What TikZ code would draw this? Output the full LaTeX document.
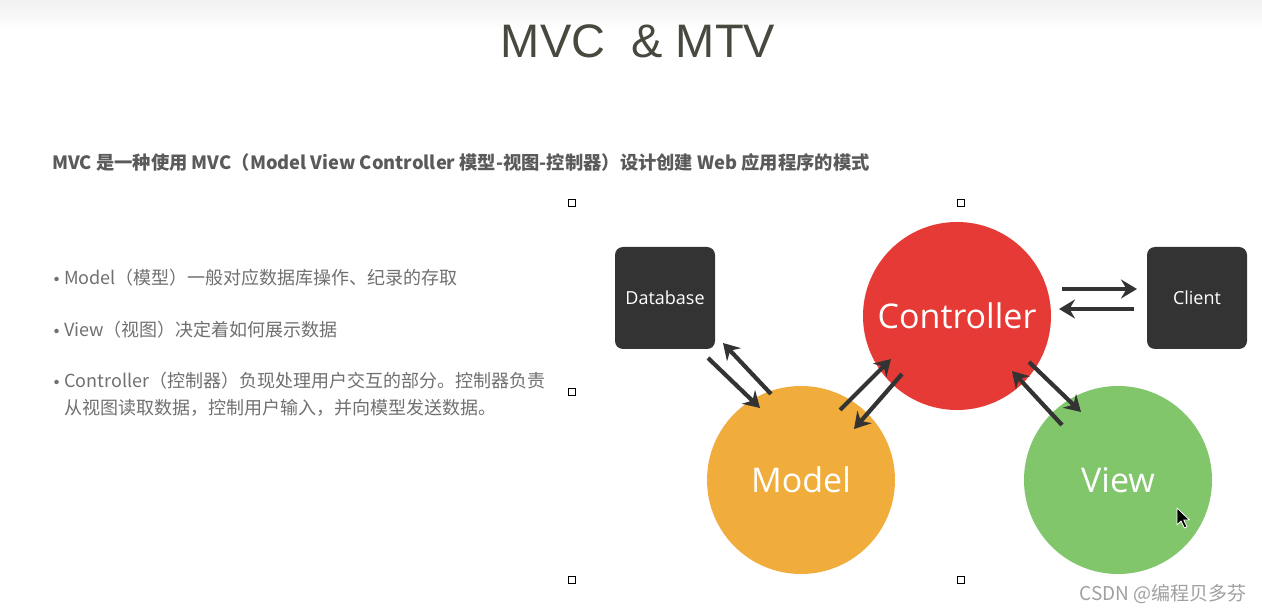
\documentclass[tikz,border=0pt]{standalone}
\usepackage{fontspec}
\setmainfont{Noto Sans CJK SC}
\newfontfamily\cjkfont{Noto Sans CJK SC}
\newfontfamily\diagfont{Open Sans}
\newfontfamily\titlefont{Liberation Sans}
\usetikzlibrary{arrows.meta}
\definecolor{titlecol}{HTML}{48483F}
\definecolor{subcol}{HTML}{5A5A5A}
\definecolor{bulcol}{HTML}{707070}
\definecolor{darkbox}{HTML}{333333}
\definecolor{ctrlred}{HTML}{E53A36}
\definecolor{modelorange}{HTML}{F1AD3C}
\definecolor{viewgreen}{HTML}{81C66B}
\definecolor{arrowcol}{HTML}{333333}
\definecolor{markcol}{HTML}{A0A0A0}
\definecolor{topgrey}{HTML}{F1F1F1}
\tikzset{
  darkbox/.style={draw=none, fill=darkbox, rounded corners=8pt, minimum width=100pt, minimum height=102pt, text=white, font=\diagfont\fontsize{18}{21}\selectfont},
  bubble/.style={circle, draw=none, minimum size=188pt, inner sep=0pt, text=white, font=\diagfont\fontsize{34}{40}\selectfont},
  flow/.style={draw=arrowcol, line width=4.2pt, -{Stealth[length=16pt,width=19pt,inset=5.5pt]}},
  handle/.style={draw=black, line width=0.8pt, fill=white, minimum size=7pt, inner sep=0pt},
  bullettext/.style={anchor=base west, inner sep=0pt, text=bulcol, font=\cjkfont\fontsize{18}{22}\selectfont},
  bulletdot/.style={circle, fill=bulcol, draw=none, minimum size=4.5pt, inner sep=0pt},
}
\begin{document}
\begin{tikzpicture}[x=1pt,y=-1pt]
\useasboundingbox (0,0) rectangle (1262,612);
\fill[white] (0,0) rectangle (1262,612);
\shade[top color=topgrey, bottom color=white] (0,0) rectangle (1262,30);

% title
\node[anchor=base, inner sep=0pt, text=titlecol, font=\titlefont\fontsize{47}{52}\selectfont] (title) at (638,58) {MVC\ \ \&\ MTV};

% subtitle
\node[anchor=base west, inner sep=0pt, text=subcol, font=\cjkfont\bfseries\fontsize{18.3}{21}\selectfont] (sub) at (52,170) {MVC 是一种使用 MVC（Model View Controller 模型-视图-控制器）设计创建 Web 应用程序的模式};

% bullets
\node[bulletdot] (d1) at (56.5,279) {};
\node[bulletdot] (d2) at (56.5,331) {};
\node[bulletdot] (d3) at (56.5,382) {};
\node[bullettext] (b1) at (64,285) {Model（模型）一般对应数据库操作、纪录的存取};
\node[bullettext] (b2) at (64,337) {View（视图）决定着如何展示数据};
\node[bullettext] (b3) at (64,388) {Controller（控制器）负现处理用户交互的部分。控制器负责};
\node[bullettext] (b4) at (64,415) {从视图读取数据，控制用户输入，并向模型发送数据。};

% selection handles
\node[handle] (h1) at (572,203) {};
\node[handle] (h2) at (961,203) {};
\node[handle] (h3) at (572,392) {};
\node[handle] (h4) at (572,580) {};
\node[handle] (h5) at (961,580) {};

% diagram
\node[darkbox] (db) at (665,298) {Database};
\node[darkbox] (client) at (1197,298) {Client};
\node[bubble, fill=ctrlred] (ctrl) at (957,316) {Controller};
\node[bubble, fill=modelorange] (model) at (801,480) {Model};
\node[bubble, fill=viewgreen] (view) at (1118,480) {View};

% connector end points
\coordinate (dbm1) at (708,358);
\coordinate (dbm2) at (760,408);
\coordinate (mdb1) at (771,394);
\coordinate (mdb2) at (723,343);
\coordinate (mc1) at (840,410);
\coordinate (mc2) at (891,359);
\coordinate (cm1) at (902,374);
\coordinate (cm2) at (854,429);
\coordinate (cv1) at (1029,362);
\coordinate (cv2) at (1081,412);
\coordinate (vc1) at (1062,425);
\coordinate (vc2) at (1012,371);
\coordinate (cc1) at (1062,289);
\coordinate (cc2) at (1137,289);
\coordinate (ccb1) at (1134,309);
\coordinate (ccb2) at (1059,309);

\draw[flow] (dbm1) -- (dbm2);
\draw[flow] (mdb1) -- (mdb2);
\draw[flow] (mc1) -- (mc2);
\draw[flow] (cm1) -- (cm2);
\draw[flow] (cv1) -- (cv2);
\draw[flow] (vc1) -- (vc2);
\draw[flow] (cc1) -- (cc2);
\draw[flow] (ccb1) -- (ccb2);

% mouse cursor
\draw[fill=black, draw=white, line width=0.8pt, line join=round]
  (1177,508) -- ++(0,17) -- ++(4,-4) -- ++(3.5,7) -- ++(2.5,-1.2) -- ++(-3.3,-6.8) -- ++(5.8,0) -- cycle;

% watermark
\node[anchor=base east, inner sep=0pt, text=markcol, font=\cjkfont\fontsize{19}{22}\selectfont] (mark) at (1247,600) {CSDN @编程贝多芬};
\end{tikzpicture}
\end{document}
